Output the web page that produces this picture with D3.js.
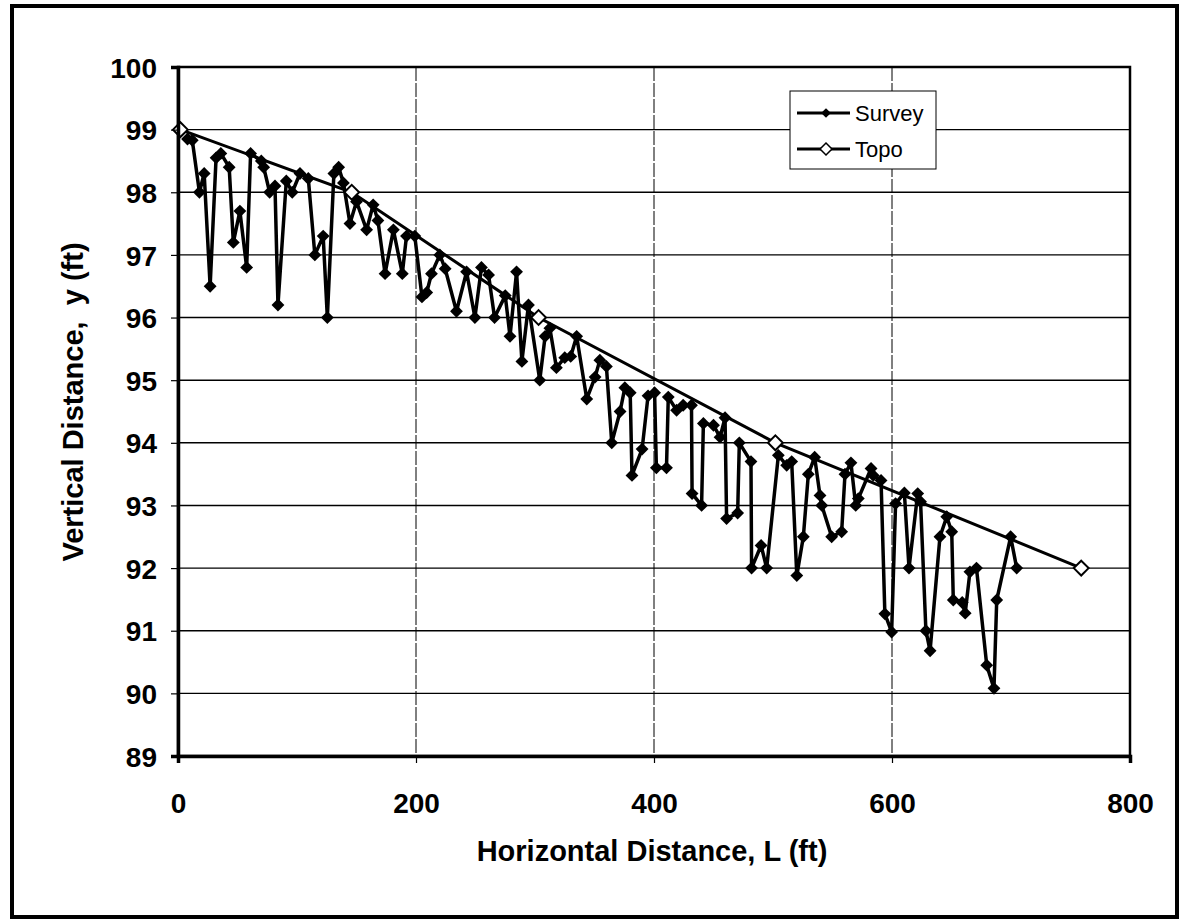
<!DOCTYPE html>
<html>
<head>
<meta charset="utf-8">
<script src="https://cdn.jsdelivr.net/npm/d3@7"></script>
<style>
  body { margin: 0; background: white; }
  svg text { font-family: Arial, "Liberation Sans", sans-serif; }
</style>
</head>
<body>
<svg id="chart" width="1188" height="921"></svg>
<script>
const WIDTH = 1188;
const HEIGHT = 921;
const PLOT = { left: 178, right: 1130, top: 67, bottom: 756 };

const xTicks = [0, 200, 400, 600, 800];
const yTicks = [89, 90, 91, 92, 93, 94, 95, 96, 97, 98, 99, 100];

// Survey points
const surveyL = [8, 12, 18, 22, 27, 32, 36, 43, 46.5, 52, 57.7, 61, 70, 72, 77, 81.5, 84, 91, 96, 102.5,
  109.5, 115, 122, 125.5, 131, 135, 139, 144.5, 150, 158.5, 164, 168, 174, 181, 188.5, 192, 199, 205, 209,
  213, 220, 224.5, 234, 242.5, 249.5, 255, 261, 266, 275, 279, 284.5, 289, 294.5, 304, 308.5, 312.5, 318,
  325, 330, 335, 343.5, 350.5, 354.5, 360, 364.5, 371.5, 375.5, 380, 381.5, 390, 395, 400.5, 402, 410.5,
  412, 419, 424.5, 431.5, 432, 440, 441.5, 450, 455.5, 459.7, 461, 470.3, 471.7, 481.5, 482, 490, 494.7,
  504.5, 511.5, 515.7, 520, 525.5, 529.7, 535, 539.5, 541, 549.3, 557.7, 560.5, 565.5, 569.5, 571.7, 582.4,
  584.3, 590.8, 594, 599.7, 603, 610.4, 614.3, 621.6, 624, 628.5, 632, 640.3, 646, 650.2, 651.5, 659,
  661.5, 665.5, 671, 679.6, 685.7, 688, 699.7, 704.8];
const surveyY = [98.85, 98.83, 98.0, 98.3, 96.5, 98.55, 98.62, 98.4, 97.2, 97.7, 96.8, 98.62, 98.5, 98.4,
  98.0, 98.1, 96.2, 98.18, 98.0, 98.3, 98.22, 97.0, 97.3, 96.0, 98.3, 98.4, 98.15, 97.5, 97.85, 97.4, 97.8,
  97.55, 96.7, 97.4, 96.7, 97.3, 97.3, 96.33, 96.4, 96.7, 97.0, 96.78, 96.1, 96.73, 96.0, 96.8, 96.68, 96.0,
  96.35, 95.7, 96.73, 95.3, 96.2, 95.0, 95.7, 95.83, 95.2, 95.36, 95.38, 95.7, 94.7, 95.05, 95.32, 95.22,
  94.0, 94.5, 94.88, 94.8, 93.48, 93.9, 94.75, 94.8, 93.6, 93.6, 94.73, 94.52, 94.6, 94.6, 93.19, 93.0,
  94.31, 94.28, 94.09, 94.4, 92.79, 92.88, 94.0, 93.7, 92.0, 92.36, 92.0, 93.8, 93.64, 93.7, 91.88, 92.5,
  93.5, 93.77, 93.16, 93.0, 92.5, 92.58, 93.5, 93.68, 93.0, 93.11, 93.59, 93.48, 93.4, 91.27, 90.98, 93.03,
  93.2, 92.0, 93.19, 93.06, 91.0, 90.68, 92.5, 92.82, 92.58, 91.49, 91.45, 91.28, 91.94, 92.0, 90.45, 90.08,
  91.49, 92.5, 92.0];

const topoL = [2, 146, 303, 502, 759];
const topoY = [99, 98, 96, 94, 92];

const svg = d3.select('#chart');
const x = d3.scaleLinear().domain([0, 800]).range([PLOT.left, PLOT.right]);
const y = d3.scaleLinear().domain([89, 100]).range([PLOT.bottom, PLOT.top]);

drawFrame();
drawGrid();
drawSeries();
drawAxes();
drawLegend();

function drawFrame() {
  svg.append('rect')
    .attr('x', 12).attr('y', 6)
    .attr('width', 1165).attr('height', 911)
    .attr('fill', 'white')
    .attr('stroke', 'black')
    .attr('stroke-width', 4);
  svg.append('rect')
    .attr('x', PLOT.left).attr('y', PLOT.top)
    .attr('width', PLOT.right - PLOT.left).attr('height', PLOT.bottom - PLOT.top)
    .attr('fill', 'white')
    .attr('stroke', 'black')
    .attr('stroke-width', 2.5);
}

function drawGrid() {
  svg.append('g')
    .selectAll('line')
    .data(yTicks.slice(1, -1))
    .enter()
    .append('line')
    .attr('x1', PLOT.left).attr('x2', PLOT.right)
    .attr('y1', d => y(d)).attr('y2', d => y(d))
    .attr('stroke', 'black')
    .attr('stroke-width', 1.4);
  svg.append('g')
    .selectAll('line')
    .data(xTicks.slice(1, -1))
    .enter()
    .append('line')
    .attr('x1', d => x(d)).attr('x2', d => x(d))
    .attr('y1', PLOT.top).attr('y2', PLOT.bottom)
    .attr('stroke', 'black')
    .attr('stroke-width', 1)
    .attr('stroke-dasharray', '14,2');
}

function drawSeries() {
  const survey = surveyL.map((l, i) => [l, surveyY[i]]);
  const topo = topoL.map((l, i) => [l, topoY[i]]);
  const line = d3.line().x(d => x(d[0])).y(d => y(d[1]));

  svg.append('path')
    .datum(topo)
    .attr('d', line)
    .attr('fill', 'none')
    .attr('stroke', 'black')
    .attr('stroke-width', 3);

  svg.append('path')
    .datum(survey)
    .attr('d', line)
    .attr('fill', 'none')
    .attr('stroke', 'black')
    .attr('stroke-width', 3.5)
    .attr('stroke-linejoin', 'round');

  svg.append('g')
    .selectAll('path')
    .data(survey)
    .enter()
    .append('path')
    .attr('d', d3.symbol().type(d3.symbolDiamond2).size(105)())
    .attr('transform', d => 'translate(' + x(d[0]) + ',' + y(d[1]) + ')')
    .attr('fill', 'black');

  svg.append('g')
    .selectAll('path')
    .data(topo)
    .enter()
    .append('path')
    .attr('d', d3.symbol().type(d3.symbolDiamond2).size(140)())
    .attr('transform', d => 'translate(' + x(d[0]) + ',' + y(d[1]) + ')')
    .attr('fill', 'white')
    .attr('stroke', 'black')
    .attr('stroke-width', 2);
}

function drawAxes() {
  const xAxis = svg.append('g')
    .attr('transform', 'translate(0,' + PLOT.bottom + ')')
    .call(d3.axisBottom(x).tickValues(xTicks).tickSize(7).tickPadding(30));
  const yAxis = svg.append('g')
    .attr('transform', 'translate(' + PLOT.left + ',0)')
    .call(d3.axisLeft(y).tickValues(yTicks).tickSize(7).tickPadding(14));

  [xAxis, yAxis].forEach(function(a) {
    a.select('.domain').attr('stroke', 'black').attr('stroke-width', 3.5);
    a.selectAll('.tick line').attr('stroke', 'black').attr('stroke-width', 1.2);
    a.selectAll('.tick text')
      .attr('fill', 'black')
      .attr('font-size', '28px')
      .attr('font-weight', 'bold')
      .attr('font-family', 'Arial, "Liberation Sans", sans-serif');
  });
  yAxis.selectAll('.tick text').attr('dy', '0.36em');

  svg.append('text')
    .attr('x', 652).attr('y', 861)
    .attr('text-anchor', 'middle')
    .attr('font-size', '29px')
    .attr('font-weight', 'bold')
    .text('Horizontal Distance, L (ft)');

  svg.append('text')
    .attr('transform', 'translate(83,402) rotate(-90)')
    .attr('text-anchor', 'middle')
    .attr('font-size', '29px')
    .attr('font-weight', 'bold')
    .style('white-space', 'pre')
    .text('Vertical Distance,  y (ft)');
}

function drawLegend() {
  const g = svg.append('g').attr('transform', 'translate(790,91)');
  g.append('rect')
    .attr('width', 146).attr('height', 78)
    .attr('fill', 'white')
    .attr('stroke', 'black')
    .attr('stroke-width', 1);

  const items = [
    { name: 'Survey', fill: 'black', size: 60, stroke: 0 },
    { name: 'Topo', fill: 'white', size: 90, stroke: 1.5 }
  ];
  const row = g.selectAll('.item')
    .data(items)
    .enter()
    .append('g')
    .attr('class', 'item')
    .attr('transform', (d, i) => 'translate(0,' + (22 + i * 36) + ')');
  row.append('line')
    .attr('x1', 7).attr('x2', 60)
    .attr('stroke', 'black')
    .attr('stroke-width', 3);
  row.append('path')
    .attr('d', d => d3.symbol().type(d3.symbolDiamond2).size(d.size)())
    .attr('transform', 'translate(36,0)')
    .attr('fill', d => d.fill)
    .attr('stroke', 'black')
    .attr('stroke-width', d => d.stroke);
  row.append('text')
    .attr('x', 65).attr('y', 8)
    .attr('font-size', '22px')
    .text(d => d.name);
}
</script>
</body>
</html>
